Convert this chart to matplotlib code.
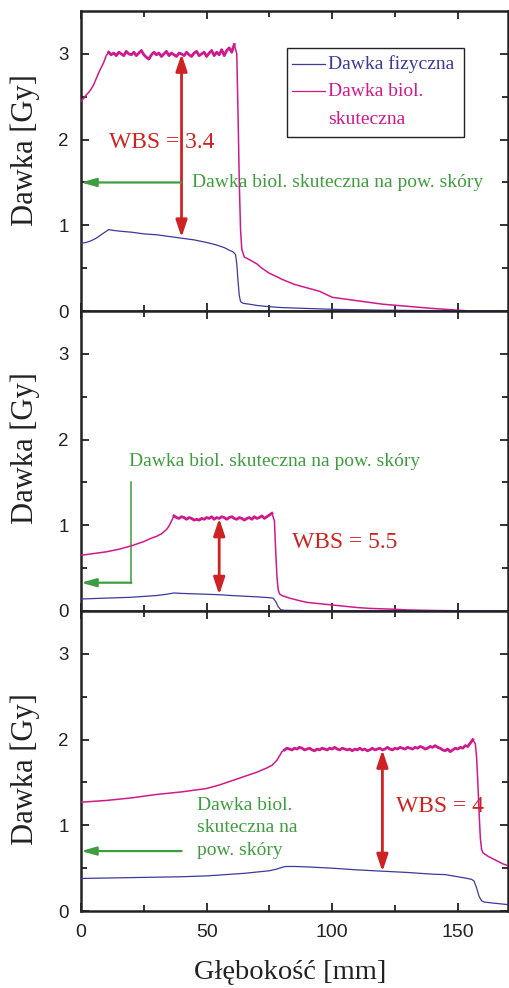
import numpy as np
import matplotlib
matplotlib.use("Agg")
import matplotlib.pyplot as plt
from matplotlib.patches import Rectangle

PHYS_COLOR = "#3a3a9c"
BIO_COLOR = "#cf1a8c"
WBS_COLOR = "#cf2222"
SKIN_COLOR = "#3f9d3f"
SERIF = "Liberation Serif"
SANS = "Liberation Sans"

plt.rcParams["font.family"] = SANS

# top panel: physical dose
phys1_depth = [0, 2, 4, 6, 8, 10, 11, 13, 16, 20, 25, 30, 35, 40, 45, 50, 54, 57, 59, 60.5,
               61.5, 62, 62.5, 63, 63.5, 64.5, 67, 70, 75, 80, 90, 100, 110, 120, 140, 170]
phys1_dose = [0.79, 0.80, 0.82, 0.85, 0.89, 0.93, 0.95, 0.94, 0.93, 0.92, 0.90, 0.89, 0.87, 0.85, 0.83, 0.80,
              0.77, 0.74, 0.71, 0.69, 0.66, 0.55, 0.35, 0.18, 0.11, 0.09, 0.08, 0.065, 0.05, 0.04,
              0.03, 0.02, 0.015, 0.01, 0.005, 0.0]
# top panel: biologically effective dose (rise, 1 mm plateau samples from 11 mm, fall-off)
bio1_rise_depth = [0, 1, 2, 3, 4, 5, 6, 7, 8, 9, 10]
bio1_rise_dose = [2.45, 2.48, 2.52, 2.55, 2.59, 2.64, 2.71, 2.78, 2.84, 2.90, 2.98]
bio1_plateau = [3.02, 2.99, 3.01, 2.98, 3.02, 3.00, 2.98, 3.03, 3.00, 2.99, 3.02, 2.98, 3.01, 3.04, 2.99,
                2.96, 2.94, 2.99, 3.02, 2.99, 3.01, 2.97, 3.00, 3.03, 2.98, 3.01, 2.99, 2.97, 3.01, 3.00,
                2.98, 3.02, 2.99, 2.97, 3.01, 3.03, 2.98, 3.00, 3.02, 2.97, 3.01, 3.04, 2.98, 3.02, 2.99,
                3.05, 2.98, 3.04, 3.07, 3.02, 3.11]
bio1_fall_depth = [62, 62.5, 63, 63.5, 64, 65, 67, 70, 72, 75, 78, 80, 85, 90, 95,
                   100, 105, 110, 115, 120, 130, 140, 150, 155, 170]
bio1_fall_dose = [3.00, 2.30, 1.50, 0.95, 0.72, 0.63, 0.60, 0.55, 0.50, 0.44, 0.40, 0.37, 0.31, 0.27, 0.23,
                  0.16, 0.14, 0.12, 0.10, 0.08, 0.055, 0.03, 0.01, 0.0, 0.0]

# middle panel
phys2_depth = [0, 10, 20, 30, 34, 37, 40, 50, 55, 60, 70, 75, 76.5, 77.5, 78.5, 79.5, 81, 90, 170]
phys2_dose = [0.14, 0.15, 0.16, 0.18, 0.195, 0.21, 0.205, 0.195, 0.19, 0.18, 0.165, 0.155, 0.15,
              0.11, 0.05, 0.015, 0.008, 0.004, 0.0]
bio2_rise_depth = [0, 5, 10, 15, 20, 25, 28, 30, 32, 34, 35, 36]
bio2_rise_dose = [0.65, 0.67, 0.69, 0.72, 0.76, 0.81, 0.85, 0.87, 0.90, 0.95, 0.99, 1.05]
bio2_plateau = [1.11, 1.09, 1.08, 1.10, 1.09, 1.07, 1.09, 1.08, 1.06, 1.07, 1.06, 1.08, 1.07, 1.09,
                1.08, 1.10, 1.07, 1.09, 1.08, 1.10, 1.09, 1.07, 1.09, 1.10, 1.08, 1.07, 1.09, 1.08,
                1.06, 1.08, 1.09, 1.07, 1.10, 1.08, 1.09, 1.11, 1.08, 1.10, 1.12, 1.14]
bio2_fall_depth = [77, 77.5, 78, 78.5, 79, 80, 83, 87, 90, 95, 100, 105, 110, 115, 120, 125, 130, 140, 150, 170]
bio2_fall_dose = [1.05, 0.70, 0.40, 0.25, 0.20, 0.18, 0.15, 0.12, 0.10, 0.085, 0.07, 0.055, 0.04, 0.03,
                  0.025, 0.02, 0.012, 0.006, 0.002, 0.0]

# bottom panel
phys3_depth = [0, 20, 40, 50, 60, 65, 70, 75, 78, 80, 81.5, 85, 90, 100, 110, 120, 130, 140, 145, 150,
               153, 155.5, 156.5, 157.5, 158.5, 159.5, 160.5, 165, 170]
phys3_dose = [0.38, 0.39, 0.40, 0.41, 0.43, 0.44, 0.455, 0.47, 0.49, 0.51, 0.52, 0.52, 0.515, 0.50, 0.48,
              0.465, 0.45, 0.43, 0.425, 0.40, 0.385, 0.37, 0.35, 0.27, 0.17, 0.12, 0.105, 0.09, 0.075]
bio3_rise_depth = [0, 10, 20, 30, 40, 50, 55, 60, 65, 70, 74, 76, 78, 79, 80]
bio3_rise_dose = [1.27, 1.29, 1.32, 1.36, 1.39, 1.43, 1.47, 1.52, 1.57, 1.62, 1.67, 1.70, 1.76, 1.81, 1.86]
bio3_plateau = [1.88, 1.90, 1.89, 1.88, 1.90, 1.89, 1.91, 1.90, 1.88, 1.89,
                1.90, 1.88, 1.87, 1.89, 1.88, 1.90, 1.89, 1.88, 1.90, 1.89,
                1.91, 1.89, 1.88, 1.90, 1.89, 1.88, 1.89, 1.87, 1.89, 1.88,
                1.90, 1.88, 1.89, 1.87, 1.88, 1.90, 1.88, 1.89, 1.90, 1.88,
                1.89, 1.91, 1.89, 1.88, 1.90, 1.89, 1.91, 1.90, 1.89, 1.91,
                1.90, 1.89, 1.91, 1.90, 1.92, 1.91, 1.89, 1.90, 1.92, 1.91,
                1.93, 1.91, 1.90, 1.88, 1.87, 1.89, 1.86, 1.88, 1.90, 1.89,
                1.91, 1.90, 1.93, 1.92, 1.96, 2.00]
bio3_fall_depth = [157, 157.5, 158, 158.5, 159, 159.5, 160, 162, 164, 166, 168, 170]
bio3_fall_dose = [1.95, 1.80, 1.50, 1.15, 0.85, 0.72, 0.68, 0.64, 0.61, 0.58, 0.55, 0.53]

PLATEAU_START = [11, 37, 81]
WBS_LABELS = ["WBS = 3.4", "WBS = 5.5", "WBS = 4"]
SKIN_TEXT = "Dawka biol. skuteczna na pow. skóry"


def build_bio(rise_depth, rise_dose, start, plateau, fall_depth, fall_dose):
    plateau_depth = start + np.arange(len(plateau))
    depth = np.concatenate([rise_depth, plateau_depth, fall_depth])
    dose = np.concatenate([rise_dose, plateau, fall_dose])
    return depth, dose, plateau_depth


def style_axes(ax, bottom):
    ax.set_xlim(0, 170)
    ax.set_ylim(0, 3.5)
    ax.set_xticks([0, 50, 100, 150])
    ax.set_xticks([25, 75, 125], minor=True)
    ax.set_yticks([0, 1, 2, 3])
    ax.set_yticks([0.5, 1.5, 2.5], minor=True)
    ax.tick_params(which="both", direction="in", top=True, right=True, width=1.3, colors="#222222")
    ax.tick_params(which="major", length=6)
    ax.tick_params(which="minor", length=4.5)
    ax.tick_params(axis="y", labelsize=13.5, pad=9)
    ax.tick_params(axis="x", labelsize=14, pad=9, labelbottom=bottom)
    for spine in ax.spines.values():
        spine.set_linewidth(1.8)
        spine.set_color("#222222")


def arrow(ax, start, end, style, color, lw, scale):
    ax.annotate("", xy=end, xytext=start,
                arrowprops=dict(arrowstyle=style, color=color, lw=lw, mutation_scale=scale,
                                shrinkA=0, shrinkB=0))


fig = plt.figure(figsize=(5.1, 9.88), dpi=100)
left, width = 0.159, 0.837
bottoms = [0.6852, 0.3816, 0.0779]
height = 0.3036
axes = [fig.add_axes([left, b, width, height]) for b in bottoms]

curves = [
    (phys1_depth, phys1_dose,
     build_bio(bio1_rise_depth, bio1_rise_dose, PLATEAU_START[0], bio1_plateau, bio1_fall_depth, bio1_fall_dose),
     bio1_plateau),
    (phys2_depth, phys2_dose,
     build_bio(bio2_rise_depth, bio2_rise_dose, PLATEAU_START[1], bio2_plateau, bio2_fall_depth, bio2_fall_dose),
     bio2_plateau),
    (phys3_depth, phys3_dose,
     build_bio(bio3_rise_depth, bio3_rise_dose, PLATEAU_START[2], bio3_plateau, bio3_fall_depth, bio3_fall_dose),
     bio3_plateau),
]

for i, (ax, (pd, pv, (bd, bv, plat_d), plat_v)) in enumerate(zip(axes, curves)):
    ax.plot(bd, bv, color=BIO_COLOR, lw=1.1, zorder=3)
    # noisy plateau reads as a thicker band
    ax.plot(plat_d, plat_v, color=BIO_COLOR, lw=2.0, zorder=3)
    ax.plot(pd, pv, color=PHYS_COLOR, lw=0.9, zorder=3)
    style_axes(ax, bottom=(i == 2))
    ax.set_ylabel("Dawka [Gy]", fontfamily=SERIF, fontsize=22, color="#222222")

axes[0].yaxis.set_label_coords(-0.096, 0.535)
axes[1].yaxis.set_label_coords(-0.096, 0.543)
axes[2].yaxis.set_label_coords(-0.096, 0.473)
axes[2].set_xlabel("Głębokość [mm]", fontfamily=SERIF, fontsize=20.5, color="#222222")
axes[2].xaxis.set_label_coords(0.49, -0.163)

red_style = "<|-|>,head_length=0.6,head_width=0.2"
green_style = "-|>,head_length=0.6,head_width=0.17"
wbs_font = dict(fontfamily=SERIF, fontsize=17, color=WBS_COLOR, va="center", ha="left")
skin_font = dict(fontfamily=SERIF, fontsize=14, color=SKIN_COLOR, va="center", ha="left")

# top panel annotations
ax = axes[0]
ax.text(11, 1.97, WBS_LABELS[0], **wbs_font)
arrow(ax, (40, 3.0), (40, 0.86), red_style, WBS_COLOR, 2.0, 17)
arrow(ax, (40, 1.5), (0, 1.5), green_style, SKIN_COLOR, 1.6, 15)
ax.text(44, 1.5, SKIN_TEXT, **skin_font)

# legend box drawn by hand so the two-line label sits under its handle
ax.add_patch(Rectangle((0.482, 0.579), 0.415, 0.297, transform=ax.transAxes,
                       facecolor="white", edgecolor="#222222", lw=1.0, zorder=4))
ax.plot([0.494, 0.571], [0.823, 0.823], transform=ax.transAxes, color=PHYS_COLOR, lw=0.9, zorder=5)
ax.plot([0.494, 0.571], [0.733, 0.733], transform=ax.transAxes, color=BIO_COLOR, lw=0.9, zorder=5)
legend_font = dict(fontfamily=SERIF, fontsize=14, va="center", ha="left", transform=ax.transAxes, zorder=5)
ax.text(0.578, 0.823, "Dawka fizyczna", color=PHYS_COLOR, **legend_font)
ax.text(0.578, 0.733, "Dawka biol.", color=BIO_COLOR, **legend_font)
ax.text(0.578, 0.639, "skuteczna", color=BIO_COLOR, **legend_font)

# middle panel annotations
ax = axes[1]
ax.text(84, 0.80, WBS_LABELS[1], **wbs_font)
arrow(ax, (55, 1.08), (55, 0.19), red_style, WBS_COLOR, 2.0, 17)
ax.plot([20, 20], [1.5, 0.33], color=SKIN_COLOR, lw=1.1)
arrow(ax, (20, 0.33), (0, 0.33), green_style, SKIN_COLOR, 1.6, 15)
ax.text(19, 1.745, SKIN_TEXT, **skin_font)

# bottom panel annotations
ax = axes[2]
ax.text(125.6, 1.22, WBS_LABELS[2], **wbs_font)
arrow(ax, (120, 1.88), (120, 0.46), red_style, WBS_COLOR, 2.0, 17)
arrow(ax, (40, 0.70), (0, 0.70), green_style, SKIN_COLOR, 1.6, 15)
ax.text(46, 0.97, "Dawka biol.\nskuteczna na\npow. skóry", linespacing=1.42, **skin_font)

fig.savefig("out.png", dpi=100)
